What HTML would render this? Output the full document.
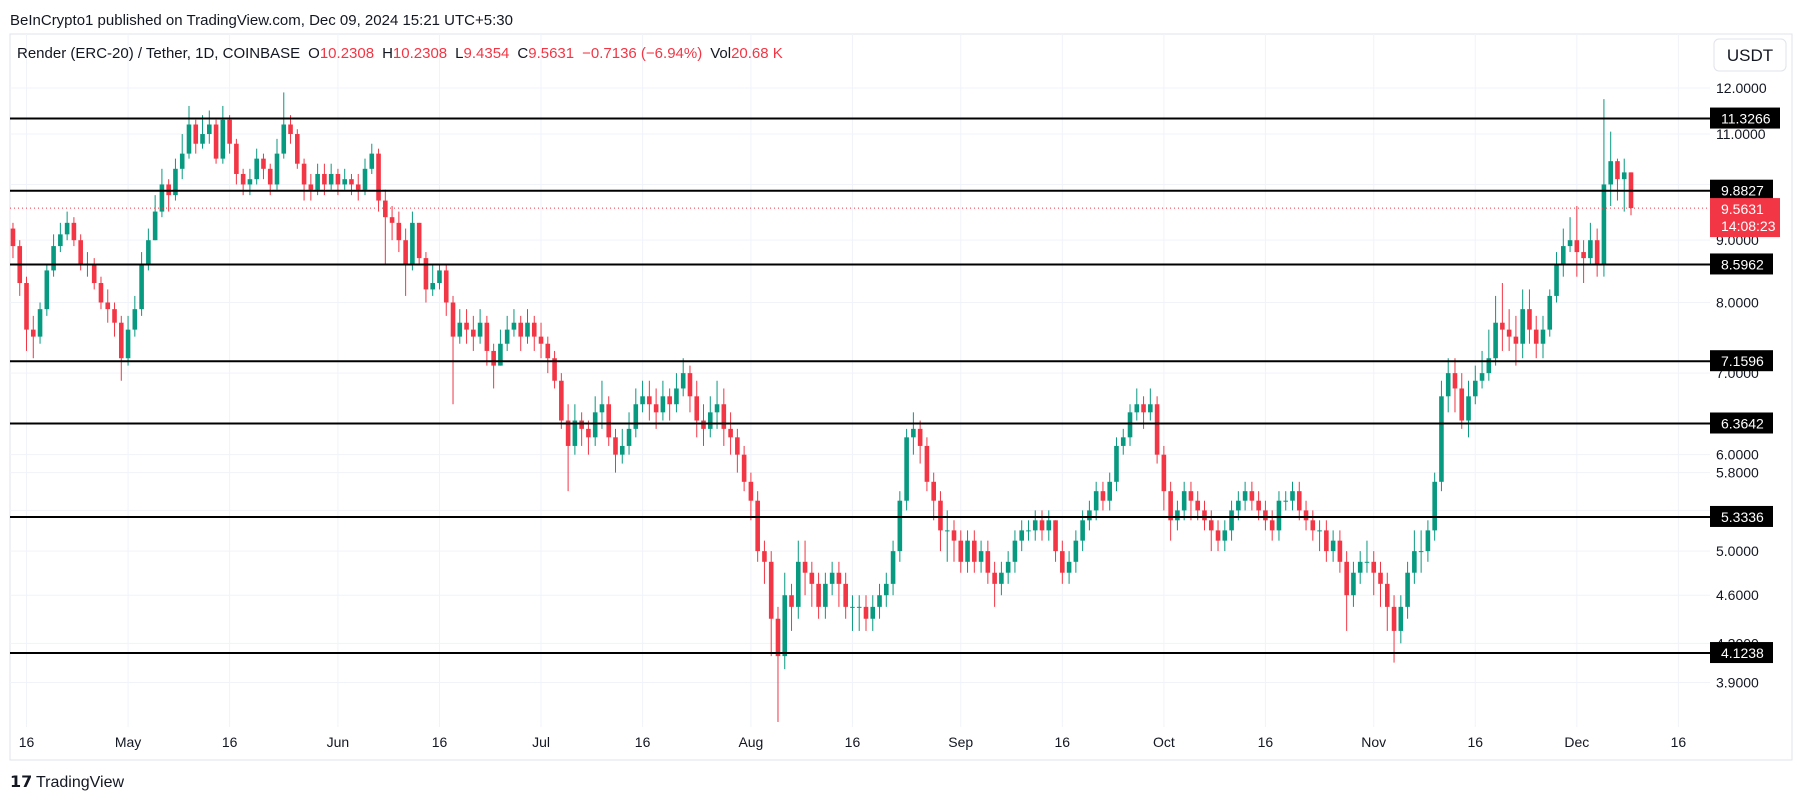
<!DOCTYPE html>
<html><head><meta charset="utf-8"><style>
html,body{margin:0;padding:0;background:#fff;width:1804px;height:803px;overflow:hidden;font-family:"Liberation Sans",sans-serif}
svg{display:block}
</style></head><body>
<svg id="c" width="1804" height="803" xmlns="http://www.w3.org/2000/svg">
<text x="10" y="25" font-size="15" fill="#131722">BeInCrypto1 published on TradingView.com, Dec 09, 2024 15:21 UTC+5:30</text>
<rect x="10" y="34" width="1782" height="726" fill="none" stroke="#e0e3eb"/>
<g id="grid"></g>
<g id="candles"></g>
<g id="levels"></g>
<g id="axis"></g>
<text x="17" y="58" font-size="15" fill="#131722">Render (ERC-20) / Tether, 1D, COINBASE<tspan dx="8">O</tspan><tspan fill="#f23645">10.2308</tspan><tspan dx="8">H</tspan><tspan fill="#f23645">10.2308</tspan><tspan dx="8">L</tspan><tspan fill="#f23645">9.4354</tspan><tspan dx="8">C</tspan><tspan fill="#f23645">9.5631</tspan><tspan dx="8" fill="#f23645">−0.7136 (−6.94%)</tspan><tspan dx="8">Vol</tspan><tspan fill="#f23645">20.68 K</tspan></text>
<g><rect x="1714" y="39" width="72" height="32" rx="5" fill="#fff" stroke="#e0e3eb"/><text x="1750" y="61" font-size="17" text-anchor="middle" fill="#131722">USDT</text></g>
<g><text x="10" y="787" font-size="16" font-weight="bold" fill="#131722">𝟭𝟳</text><text x="36" y="787" font-size="16" fill="#131722">TradingView</text></g>
</svg>
<script>
const closes=[8.9,8.3,7.6,7.5,7.9,8.5,8.9,9.1,9.3,9.0,8.6,8.6,8.3,8.0,7.9,7.7,7.2,
7.6,7.9,8.6,9.0,9.5,10.0,9.8,10.3,10.6,11.2,10.8,11.0,11.2,10.5,11.3,10.8,10.2,10.0,10.1,10.5,10.3,10.0,10.6,11.2,11.0,10.4,10.0,9.9,10.2,10.0,10.2,
10.0,10.1,10.0,9.9,10.3,10.6,9.7,9.4,9.3,9.0,8.6,9.3,8.7,8.2,8.3,8.5,8.0,7.5,7.7,7.6,7.5,7.7,7.3,7.1,7.4,7.6,7.7,7.5,7.7,7.5,
7.4,7.2,6.9,6.4,6.1,6.4,6.3,6.2,6.5,6.6,6.2,6.0,6.1,6.3,6.6,6.7,6.6,6.5,6.7,6.6,6.8,7.0,6.7,6.4,6.3,6.5,6.6,6.3,6.2,6.0,5.7,
5.5,5.0,4.9,4.4,4.1,4.6,4.5,4.9,4.8,4.7,4.5,4.7,4.8,4.7,4.5,4.5,4.5,4.4,4.5,4.6,4.7,5.0,5.5,6.2,6.3,6.1,5.7,5.5,5.2,5.2,5.1,
4.9,5.1,4.9,5.0,4.8,4.7,4.8,4.9,5.1,5.2,5.2,5.3,5.2,5.3,5.0,4.8,4.9,5.1,5.3,5.4,5.6,5.5,5.7,6.1,6.2,6.5,6.6,6.5,6.6,6.0,
5.6,5.3,5.4,5.6,5.5,5.4,5.3,5.2,5.1,5.2,5.4,5.5,5.6,5.5,5.4,5.3,5.2,5.5,5.5,5.6,5.4,5.3,5.2,5.2,5.0,5.1,4.9,4.6,4.8,4.9,4.9,
4.8,4.7,4.5,4.3,4.5,4.8,5.0,5.0,5.2,5.7,6.7,7.0,6.8,6.4,6.7,6.9,7.0,7.2,7.7,7.6,7.5,7.4,7.9,7.6,7.4,7.6,8.1,8.6,8.9,9.0,
8.8,8.7,9.0,8.6,10.0,10.45,10.1,10.2308,9.5631];
const highs=[9.3,9.0,8.4,7.8,8.0,8.6,9.1,9.3,9.5,9.4,9.1,8.8,8.7,8.4,8.2,8.0,7.8,
7.8,8.1,8.8,9.2,9.8,10.3,10.1,10.5,11.0,11.6,11.3,11.4,11.5,11.3,11.6,11.4,10.9,10.3,10.3,10.7,10.6,10.4,10.9,11.9,11.4,11.1,10.5,10.2,10.4,10.4,10.4,
10.3,10.3,10.2,10.2,10.5,10.8,10.7,9.9,9.6,9.5,9.2,9.5,9.3,8.8,8.6,8.6,8.6,8.1,7.9,7.9,7.8,7.9,7.8,7.4,7.6,7.8,7.9,7.8,7.9,7.8,
7.7,7.5,7.3,7.0,6.6,6.6,6.5,6.4,6.7,6.9,6.7,6.3,6.3,6.5,6.8,6.9,6.9,6.8,6.9,6.8,7.0,7.2,7.1,6.9,6.6,6.7,6.9,6.8,6.5,6.3,6.1,
5.8,5.6,5.1,5.0,4.5,4.8,4.7,5.1,5.1,4.9,4.8,4.8,4.9,4.9,4.8,4.6,4.6,4.6,4.6,4.7,4.8,5.1,5.6,6.3,6.5,6.4,6.2,5.8,5.6,5.4,5.3,
5.2,5.2,5.2,5.1,5.1,4.9,4.9,5.0,5.2,5.3,5.3,5.4,5.4,5.4,5.3,5.1,5.0,5.2,5.4,5.5,5.7,5.7,5.8,6.2,6.3,6.6,6.8,6.7,6.8,6.7,
6.1,5.7,5.5,5.7,5.7,5.6,5.5,5.4,5.3,5.3,5.5,5.6,5.7,5.7,5.6,5.5,5.4,5.6,5.6,5.7,5.7,5.5,5.4,5.3,5.3,5.2,5.2,5.0,4.9,5.0,5.1,
5.0,4.9,4.8,4.6,4.6,4.9,5.2,5.2,5.3,5.8,6.9,7.2,7.2,7.0,6.9,7.1,7.3,7.6,8.1,8.3,7.9,7.8,8.2,8.2,7.8,7.8,8.2,8.8,9.2,9.4,
9.6,9.0,9.3,9.2,11.75,11.05,10.5,10.5,10.2308];
const lows=[8.7,8.1,7.3,7.2,7.4,7.8,8.4,8.8,9.0,8.9,8.5,8.4,8.2,7.9,7.7,7.5,6.9,
7.1,7.5,7.8,8.5,9.0,9.4,9.5,9.7,10.1,10.5,10.6,10.7,10.8,10.4,10.4,10.6,10.0,9.8,9.8,10.0,10.1,9.8,9.9,10.5,10.8,10.3,9.7,9.7,9.8,9.8,9.9,
9.8,9.9,9.8,9.7,9.8,10.2,9.5,8.6,9.0,8.8,8.1,8.5,8.6,8.0,8.1,8.2,7.8,6.6,7.4,7.4,7.3,7.4,7.1,6.8,7.1,7.3,7.5,7.3,7.4,7.3,
7.2,7.0,6.8,6.3,5.6,6.0,6.1,6.0,6.1,6.3,6.1,5.8,5.9,6.0,6.2,6.5,6.4,6.3,6.4,6.4,6.5,6.7,6.5,6.2,6.1,6.2,6.3,6.1,6.0,5.8,5.6,
5.3,4.9,4.7,4.1,3.62,4.0,4.3,4.4,4.6,4.5,4.4,4.4,4.6,4.5,4.4,4.3,4.3,4.3,4.3,4.4,4.5,4.6,4.9,5.4,6.0,5.9,5.6,5.3,5.0,4.9,4.9,
4.8,4.8,4.8,4.8,4.7,4.5,4.6,4.7,4.8,5.0,5.1,5.1,5.1,5.1,4.9,4.7,4.7,4.8,5.0,5.2,5.3,5.4,5.4,5.6,6.0,6.1,6.4,6.3,6.4,5.9,
5.4,5.1,5.2,5.3,5.3,5.3,5.2,5.0,5.0,5.0,5.1,5.3,5.4,5.4,5.3,5.2,5.1,5.1,5.4,5.4,5.3,5.2,5.1,5.0,4.9,4.9,4.8,4.3,4.5,4.7,4.8,
4.6,4.5,4.3,4.05,4.2,4.4,4.7,4.8,4.9,5.1,5.6,6.5,6.5,6.3,6.2,6.6,6.8,6.9,7.1,7.3,7.3,7.1,7.2,7.4,7.2,7.2,7.5,8.0,8.4,8.8,
8.4,8.3,8.6,8.4,8.4,9.6,9.7,9.5,9.4354];
const firstOpen=9.2;
const levels=[11.3266,9.8827,8.5962,7.1596,6.3642,5.3336,4.1238];
const priceTicks=[12,11,10,9,8,7,6,5.8,5.4,5.0,4.6,4.2,3.9];
const dateLabels=["16","May","16","Jun","16","Jul","16","Aug","16","Sep","16","Oct","16","Nov","16","Dec","16"];
const dateDaysBeforeLast=[237,222,207,191,176,161,146,130,115,99,84,69,54,38,23,8,-7];
const lastPrice=9.5631;

const NS="http://www.w3.org/2000/svg";
const N=closes.length, PLOT_R=1710;
function y(p){return 88+529*Math.log(12/p);}
function xi(i){return 1631-(N-1-i)*6.77;}
function xd(d){return 1631-d*6.77;}
function mk(tag,attrs,parent){const e=document.createElementNS(NS,tag);for(const k in attrs)e.setAttribute(k,attrs[k]);parent.appendChild(e);return e;}
const grid=document.getElementById('grid'),cg=document.getElementById('candles'),lg=document.getElementById('levels'),ax=document.getElementById('axis');

priceTicks.forEach(p=>{
  const l=mk('line',{x1:10,x2:PLOT_R,y1:y(p),y2:y(p),stroke:'#f0f3fa','stroke-width':1},grid);
  
  
  const t=mk('text',{x:1716,y:y(p)+5,'font-size':14,fill:'#131722'},ax);
  t.textContent=p.toFixed(4);
  
  
});
dateLabels.forEach((s,k)=>{
  const x=xd(dateDaysBeforeLast[k]);
  const l=mk('line',{x1:x,x2:x,y1:34,y2:727,stroke:'#f0f3fa','stroke-width':1},grid);
  
  
  const t=mk('text',{x:x,y:747,'font-size':14,'text-anchor':'middle',fill:'#131722'},ax);
  t.textContent=s;
  
  
});

for(let i=0;i<N;i++){
  const o=i?closes[i-1]:firstOpen,c=closes[i];
  const col=c>=o?'#089981':'#f23645';
  const x=xi(i);
  const g=mk('g',{},cg);
  
  
  mk('line',{x1:x,x2:x,y1:y(highs[i]),y2:y(lows[i]),stroke:col,'stroke-width':1},g);
  const top=y(Math.max(o,c)),bot=y(Math.min(o,c));
  mk('rect',{x:x-2.3,y:top,width:4.6,height:Math.max(1,bot-top),fill:col},g);
}

const ly=y(lastPrice);
const pl=mk('line',{x1:10,x2:PLOT_R,y1:ly,y2:ly,stroke:'#f23645','stroke-width':1,'stroke-dasharray':'1,3'},lg);



levels.forEach(p=>{
  const l=mk('line',{x1:10,x2:PLOT_R,y1:y(p),y2:y(p),stroke:'#000','stroke-width':2},lg);
  
  
  const s=p.toFixed(4);
  const r=mk('rect',{x:PLOT_R,y:y(p)-11,width:s.length>6?70:63,height:21,fill:'#000'},ax);
  
  
  const t=mk('text',{x:PLOT_R+11,y:y(p)+5,'font-size':14,fill:'#fff'},ax);
  t.textContent=s;
  
  
});

const pr=mk('rect',{x:PLOT_R,y:ly-10,width:70,height:39,fill:'#f23645'},ax);


const t1=mk('text',{x:PLOT_R+11,y:ly+6,'font-size':14,fill:'#fff'},ax);
t1.textContent=lastPrice.toFixed(4);


const t2=mk('text',{x:PLOT_R+11,y:ly+23,'font-size':14,fill:'#fff'},ax);
t2.textContent='14:08:23';


</script>
</body></html>
